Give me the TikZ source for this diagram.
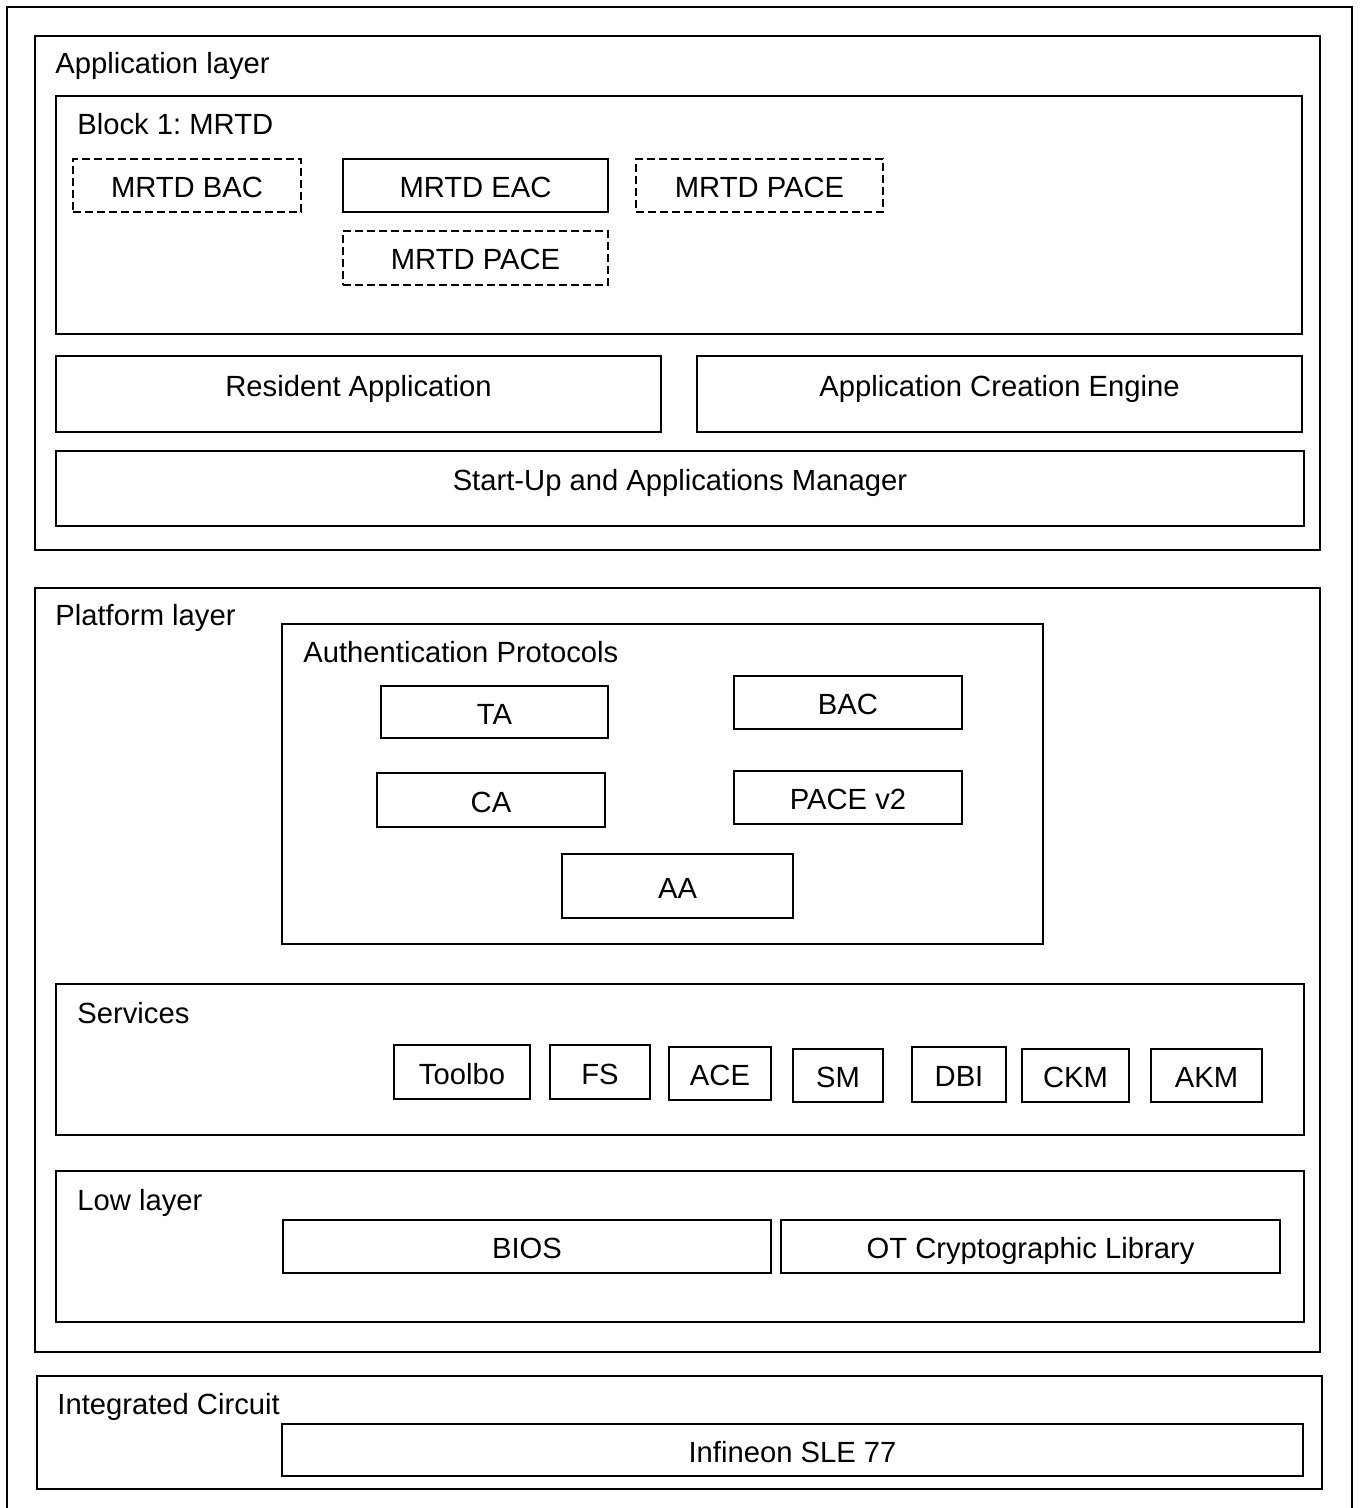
\documentclass[tikz,border=0pt]{standalone}
\usepackage{fontspec}
\setmainfont{Liberation Sans}
\frenchspacing
\usepackage{tikz}
\pgfdeclarelayer{edgelayer}
\pgfdeclarelayer{nodelayer}
\pgfsetlayers{edgelayer,nodelayer,main}
\tikzset{
	every node/.style={font=\fontsize{14.6}{17.5}\selectfont},
	frame/.style={draw, line width=0.9pt, rectangle, inner sep=0pt},
	box/.style={frame, text height=12pt, text depth=0pt},
	highbox/.style={frame, text height=6.3pt, text depth=4.3pt},
	dashbox/.style={box, dash pattern=on 4pt off 2pt},
	title/.style={anchor=base west, inner sep=0pt}
}
\begin{document}
\begin{tikzpicture}[x=0.5pt, y=-0.5pt]
							\useasboundingbox (0,0) rectangle (1359,1508);
							\begin{pgfonlayer}{nodelayer}
								\node [frame, minimum width=642.5pt, minimum height=257pt] (0) at (677.5, 293) {};
								\node [title] (1) at (55, 74) {Application layer};
								\node [frame, minimum width=623pt, minimum height=119pt] (2) at (679, 215) {};
								\node [title] (3) at (77, 135) {Block 1: MRTD};
								\node [dashbox, minimum width=114pt, minimum height=26.5pt] (4) at (187, 185.5) {MRTD BAC};
								\node [box, minimum width=132.5pt, minimum height=26.5pt] (5) at (475.5, 185.5) {MRTD EAC};
								\node [dashbox, minimum width=123.5pt, minimum height=26.5pt] (6) at (759.5, 185.5) {MRTD PACE};
								\node [dashbox, minimum width=132.5pt, minimum height=27pt] (7) at (475.5, 258) {MRTD PACE};
								\node [highbox, minimum width=302.5pt, minimum height=38pt] (8) at (358.5, 394) {Resident Application};
								\node [highbox, minimum width=302.5pt, minimum height=38pt] (9) at (999.5, 394) {Application Creation Engine};
								\node [highbox, minimum width=624pt, minimum height=37.5pt] (10) at (680, 488.5) {Start-Up and Applications Manager};

								\node [frame, minimum width=642.5pt, minimum height=382pt] (11) at (677.5, 970) {};
								\node [title] (12) at (55, 625) {Platform layer};
								\node [frame, minimum width=380.5pt, minimum height=160pt] (13) at (662.5, 784) {};
								\node [title] (14) at (303, 662) {Authentication Protocols};
								\node [box, minimum width=113.5pt, minimum height=26pt] (15) at (494.5, 712) {TA};
								\node [box, minimum width=114pt, minimum height=26.5pt] (16) at (848, 702.5) {BAC};
								\node [box, minimum width=114pt, minimum height=27pt] (17) at (491, 800) {CA};
								\node [box, minimum width=114pt, minimum height=26.5pt] (18) at (848, 797.5) {PACE v2};
								\node [box, minimum width=115.5pt, minimum height=32pt] (19) at (677.5, 886) {AA};

								\node [frame, minimum width=624pt, minimum height=75.5pt] (20) at (680, 1059.5) {};
								\node [title] (21) at (77, 1023) {Services};
								\node [box, minimum width=68pt, minimum height=27pt] (22) at (462, 1072) {Toolbo};
								\node [box, minimum width=50pt, minimum height=27pt] (23) at (600, 1072) {FS};
								\node [box, minimum width=51pt, minimum height=26.5pt] (24) at (720, 1073.5) {ACE};
								\node [box, minimum width=45pt, minimum height=26.5pt] (25) at (838, 1075.5) {SM};
								\node [box, minimum width=47pt, minimum height=27.5pt] (26) at (959, 1074.5) {DBI};
								\node [box, minimum width=53.5pt, minimum height=26.5pt] (27) at (1075.5, 1075.5) {CKM};
								\node [box, minimum width=55.5pt, minimum height=26.5pt] (28) at (1206.5, 1075.5) {AKM};

								\node [frame, minimum width=624pt, minimum height=75.5pt] (29) at (680, 1246.5) {};
								\node [title] (30) at (77, 1210) {Low layer};
								\node [box, minimum width=244pt, minimum height=26.5pt] (31) at (527, 1246.5) {BIOS};
								\node [box, minimum width=249.5pt, minimum height=26.5pt] (32) at (1030.5, 1246.5) {OT Cryptographic Library};

								\node [frame, minimum width=642.5pt, minimum height=56.5pt] (33) at (679.5, 1432.5) {};
								\node [title] (34) at (57, 1414) {Integrated Circuit};
								\node [box, minimum width=510.5pt, minimum height=26pt] (35) at (792.5, 1450) {Infineon SLE 77};
							\end{pgfonlayer}
							\begin{pgfonlayer}{edgelayer}
								\coordinate (36) at (7, 1520);
								\coordinate (37) at (1352, 1520);
								\draw [line width=0.9pt] (36) |- (1352, 7) -- (37);
							\end{pgfonlayer}
						\end{tikzpicture}
\end{document}
